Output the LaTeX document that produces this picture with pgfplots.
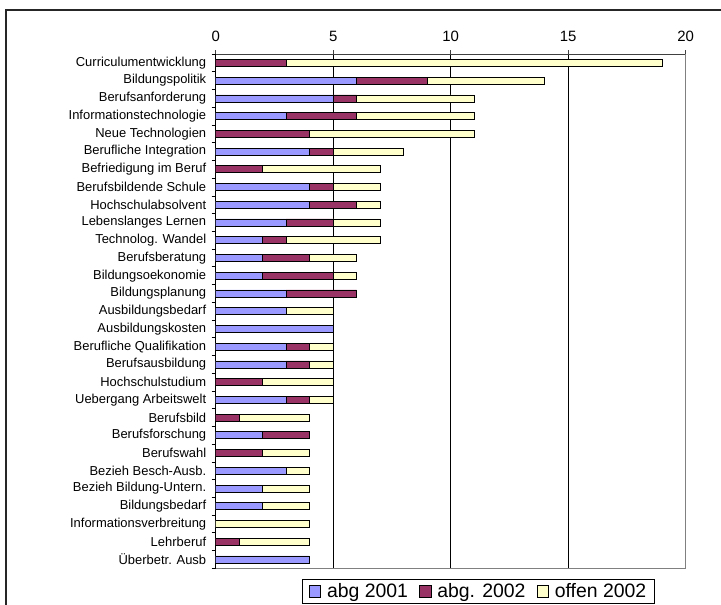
\documentclass[border=0pt]{standalone}
\usepackage{fontspec}
\setmainfont{Liberation Sans}
\usepackage{pgfplots}
\usepackage{pgfplotstable}
\pgfplotsset{compat=1.18}
\definecolor{abgA}{HTML}{9999FF}
\definecolor{abgB}{HTML}{993366}
\definecolor{offen}{HTML}{FFFFCC}

% idx  abg 2001  abg. 2002  offen 2002
\pgfplotstableread{
idx a b c
1 0 3 16
2 6 3 5
3 5 1 5
4 3 3 5
5 0 4 7
6 4 1 3
7 0 2 5
8 4 1 2
9 4 2 1
10 3 2 2
11 2 1 4
12 2 2 2
13 2 3 1
14 3 3 0
15 3 0 2
16 5 0 0
17 3 1 1
18 3 1 1
19 0 2 3
20 3 1 1
21 0 1 3
22 2 2 0
23 0 2 2
24 3 0 1
25 2 0 2
26 2 0 2
27 0 0 4
28 0 1 3
29 4 0 0
}\themen

\begin{document}
\begin{tikzpicture}
\useasboundingbox (0,0) rectangle (721bp,605bp);
\draw[line width=1.3bp, black!85] (6bp,-30bp) rectangle (760bp,595bp);
\begin{axis}[
	name=ax,
	at={(215.7bp,36.7bp)}, anchor=south west,
	scale only axis, width=470bp, height=514.3bp,
	xbar stacked, bar width=7bp,
	xmin=0, xmax=20, ymin=0.5, ymax=29.5, y dir=reverse,
	axis x line*=top, axis y line*=left,
	x axis line style={-, black!75, line width=0.8bp},
	y axis line style={-, black, line width=0.8bp},
	tick align=outside,
	major tick length=4bp, minor tick length=4bp,
	xtick={0,5,10,15,20},
	xmajorgrids, major grid style={black, line width=0.7bp},
	ytick={1,...,29},
	every major y tick/.append style={draw=none},
	minor ytick={0.5,1.5,...,29.5},
	every minor y tick/.append style={black, line width=0.7bp},
	every major x tick/.append style={black!75, line width=0.7bp},
	yticklabels={Curriculumentwicklung, Bildungspolitik, Berufsanforderung,
		Informationstechnologie, Neue Technologien, Berufliche Integration,
		Befriedigung im Beruf, Berufsbildende Schule, Hochschulabsolvent,
		Lebenslanges Lernen, Technolog. Wandel, Berufsberatung,
		Bildungsoekonomie, Bildungsplanung, Ausbildungsbedarf,
		Ausbildungskosten, Berufliche Qualifikation, Berufsausbildung,
		Hochschulstudium, Uebergang Arbeitswelt, Berufsbild, Berufsforschung,
		Berufswahl, Bezieh Besch-Ausb., Bezieh Bildung-Untern., Bildungsbedarf,
		Informationsverbreitung, Lehrberuf, Überbetr. Ausb},
	yticklabel style={font=\fontsize{13}{15}\selectfont, xshift=-2bp},
	xticklabel style={font=\fontsize{15}{17}\selectfont, yshift=5bp},
	/pgf/number format/assume math mode=true,
	every axis plot post/.append style={
		legend image code/.code={\draw[##1,draw=black,line width=0.6bp] (0bp,-5.8bp) rectangle (11.7bp,5.8bp);}},
	legend columns=3,
	legend cell align=left,
	legend style={at={(axis description cs:0.1843,-0.0214)}, anchor=north west,
		draw=black, line width=0.8bp, font=\fontsize{19.5}{22}\selectfont,
		inner xsep=6bp, inner ysep=2bp,
		/tikz/every odd column/.append style={column sep=4bp},
		/tikz/every even column/.append style={column sep=9bp}},
]
\addplot[fill=abgA, draw=black, line width=0.6bp] table[x=a, y=idx] {\themen};
\addplot[fill=abgB, draw=black, line width=0.6bp] table[x=b, y=idx] {\themen};
\addplot[fill=offen, draw=black, line width=0.6bp] table[x=c, y=idx] {\themen};
\legend{abg 2001, abg. 2002, offen 2002}
\end{axis}
\draw[gray, line width=1bp] (ax.south west) -- (ax.south east) -- (ax.north east);
\end{tikzpicture}
\end{document}
